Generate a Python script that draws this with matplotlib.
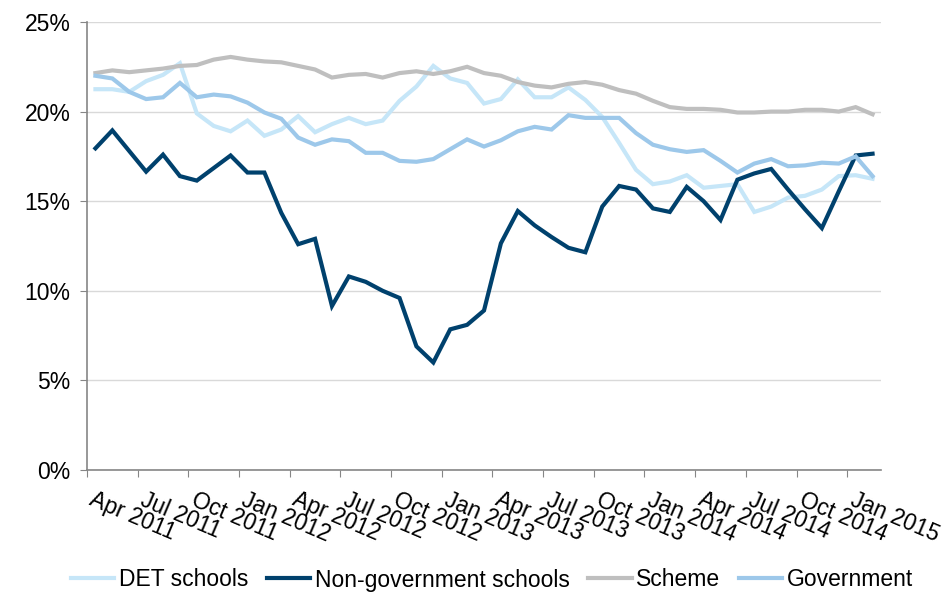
import matplotlib.pyplot as plt
import numpy as np
import pandas as pd

# Monthly categories, Apr 2011 - Feb 2015
months = pd.date_range('2011-04-01', '2015-02-01', freq='MS')
tick_labels = ['Apr 2011', 'Jul 2011', 'Oct 2011', 'Jan 2012', 'Apr 2012', 'Jul 2012',
               'Oct 2012', 'Jan 2013', 'Apr 2013', 'Jul 2013', 'Oct 2013', 'Jan 2014',
               'Apr 2014', 'Jul 2014', 'Oct 2014', 'Jan 2015']

det_schools = [21.25, 21.25, 21.1, 21.7, 22.05, 22.7, 19.9, 19.2, 18.9, 19.5, 18.65, 19.0,
               19.75, 18.85, 19.3, 19.65, 19.3, 19.5, 20.6, 21.4, 22.55, 21.85, 21.6, 20.45,
               20.7, 21.8, 20.8, 20.8, 21.35, 20.65, 19.7, 18.25, 16.75, 15.95, 16.1, 16.45,
               15.75, 15.85, 15.95, 14.4, 14.7, 15.2, 15.3, 15.65, 16.4, 16.45, 16.25]

non_government = [17.95, 18.95, 17.8, 16.65, 17.6, 16.4, 16.15, 16.85, 17.55, 16.6, 16.6, 14.35,
                  12.6, 12.9, 9.15, 10.8, 10.5, 10.0, 9.6, 6.9, 6.0, 7.85, 8.1, 8.9,
                  12.65, 14.45, 13.65, 13.0, 12.4, 12.15, 14.7, 15.85, 15.65, 14.6, 14.4, 15.8,
                  15.0, 13.95, 16.2, 16.55, 16.8, 15.65, 14.55, 13.5, 15.55, 17.55, 17.65]

scheme = [22.15, 22.3, 22.2, 22.3, 22.4, 22.55, 22.6, 22.9, 23.05, 22.9, 22.8, 22.75,
          22.55, 22.35, 21.9, 22.05, 22.1, 21.9, 22.15, 22.25, 22.1, 22.25, 22.5, 22.15,
          22.0, 21.65, 21.45, 21.35, 21.55, 21.65, 21.5, 21.2, 21.0, 20.6, 20.25, 20.15,
          20.15, 20.1, 19.95, 19.95, 20.0, 20.0, 20.1, 20.1, 20.0, 20.25, 19.85]

government = [22.0, 21.85, 21.1, 20.7, 20.8, 21.6, 20.8, 20.95, 20.85, 20.5, 19.95, 19.6,
              18.55, 18.15, 18.45, 18.35, 17.7, 17.7, 17.25, 17.2, 17.35, 17.9, 18.45, 18.05,
              18.4, 18.9, 19.15, 19.0, 19.8, 19.65, 19.65, 19.65, 18.8, 18.15, 17.9, 17.75,
              17.85, 17.25, 16.6, 17.1, 17.35, 16.95, 17.0, 17.15, 17.1, 17.5, 16.4]

series = [('DET schools', det_schools, '#c6e6f8'),
          ('Non-government schools', non_government, '#00416d'),
          ('Scheme', scheme, '#bfbfbf'),
          ('Government', government, '#9dc8ea')]

plt.rcParams['font.family'] = ['Liberation Sans', 'DejaVu Sans']
FS = 16.5

fig = plt.figure(figsize=(9.45, 5.94), dpi=100)
ax = fig.add_axes([87 / 945, 1 - 470 / 594, 794 / 945, 448 / 594])

x = np.arange(len(months))
for name, vals, color in series:
    ax.plot(x, vals, color=color, linewidth=3, label=name, solid_joinstyle='miter')

# axes formatting
ax.set_xlim(-0.5, len(months) - 0.5)
ax.set_ylim(0, 25)
ax.set_yticks(np.arange(0, 26, 5))
ax.set_yticklabels([f'{v}%' for v in range(0, 26, 5)], fontsize=FS)
ax.grid(axis='y', color='#d9d9d9', linewidth=1)
ax.set_axisbelow(True)

# tick marks between categories, labels on every third month
ax.set_xticks(np.arange(-0.5, len(months), 3))
ax.set_xticklabels([])
ax.set_xticks(np.arange(0, len(months), 3), minor=True)
ax.set_xticklabels(tick_labels, minor=True, rotation=-23, ha='left', va='top',
                   rotation_mode='anchor', fontsize=FS)
ax.tick_params(axis='x', which='major', length=5, color='#868686', direction='out')
ax.tick_params(axis='x', which='minor', length=0, pad=13)
ax.tick_params(axis='y', length=5, color='#868686', direction='out', pad=7)

for side in ['top', 'right']:
    ax.spines[side].set_visible(False)
for side in ['left', 'bottom']:
    ax.spines[side].set_color('#868686')
    ax.spines[side].set_linewidth(1.2)

fig.legend(loc='center', bbox_to_anchor=(492 / 945, 1 - 580 / 594), ncol=4,
           frameon=False, fontsize=FS, handlelength=1.9, handletextpad=0.2,
           columnspacing=0.8)

plt.savefig('out.png', dpi=100)
